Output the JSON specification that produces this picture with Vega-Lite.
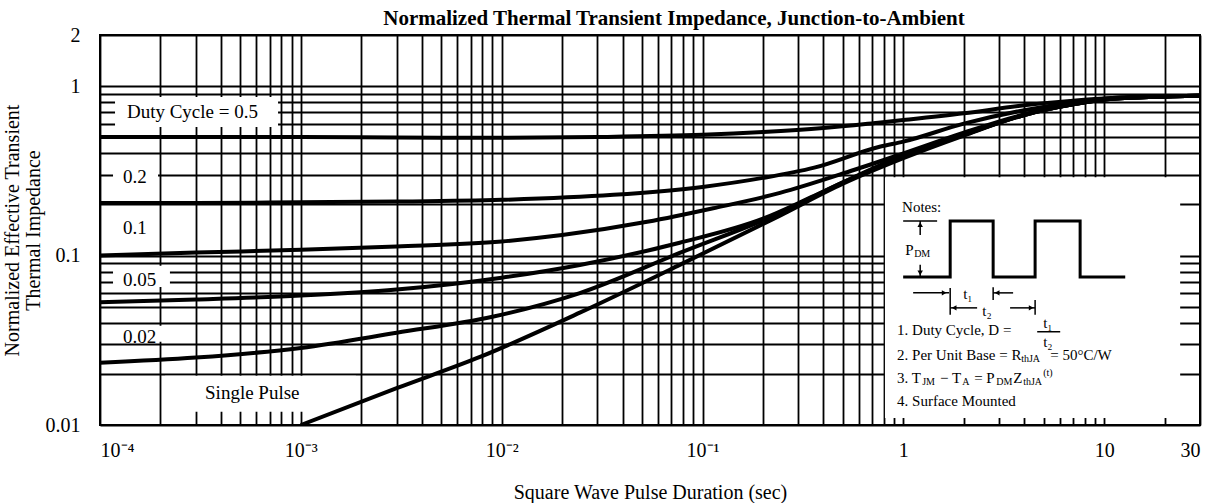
{
  "$schema": "https://vega.github.io/schema/vega-lite/v6.json",
  "width": 1100,
  "height": 390,
  "autosize": {"type": "none"},
  "padding": {"left": 100, "top": 35, "right": 15, "bottom": 78},
  "background": "white",
  "title": {
    "text": "Normalized Thermal Transient Impedance, Junction-to-Ambient",
    "font": "Liberation Serif",
    "fontSize": 21,
    "fontWeight": "bold",
    "color": "black",
    "anchor": "middle",
    "frame": "group",
    "offset": -4,
    "dx": 24
  },
  "config": {
    "view": {"stroke": "black", "strokeWidth": 2},
    "font": "Liberation Serif",
    "text": {"font": "Liberation Serif", "color": "black"},
    "axis": {
      "gridColor": "black",
      "gridWidth": 1.8,
      "gridOpacity": 1,
      "ticks": false,
      "domain": false,
      "labelFont": "Liberation Serif",
      "labelFontSize": 20,
      "labelColor": "black",
      "titleFont": "Liberation Serif",
      "titleFontSize": 20,
      "titleFontWeight": "normal",
      "titleColor": "black"
    }
  },
  "datasets": {
    "curves": [
      {"s": "0.5", "x": 0.0001, "y": 0.5}, {"s": "0.5", "x": 0.0003, "y": 0.5}, {"s": "0.5", "x": 0.001, "y": 0.5}, {"s": "0.5", "x": 0.003, "y": 0.497}, {"s": "0.5", "x": 0.01, "y": 0.495}, {"s": "0.5", "x": 0.03, "y": 0.5}, {"s": "0.5", "x": 0.1, "y": 0.515}, {"s": "0.5", "x": 0.2, "y": 0.535}, {"s": "0.5", "x": 0.4, "y": 0.565}, {"s": "0.5", "x": 0.77, "y": 0.61}, {"s": "0.5", "x": 1, "y": 0.63}, {"s": "0.5", "x": 2, "y": 0.69}, {"s": "0.5", "x": 4, "y": 0.77}, {"s": "0.5", "x": 7, "y": 0.82}, {"s": "0.5", "x": 11, "y": 0.85}, {"s": "0.5", "x": 30, "y": 0.875},
      {"s": "0.2", "x": 0.0001, "y": 0.204}, {"s": "0.2", "x": 0.0003, "y": 0.204}, {"s": "0.2", "x": 0.001, "y": 0.206}, {"s": "0.2", "x": 0.003, "y": 0.208}, {"s": "0.2", "x": 0.01, "y": 0.213}, {"s": "0.2", "x": 0.036, "y": 0.228}, {"s": "0.2", "x": 0.1, "y": 0.254}, {"s": "0.2", "x": 0.2, "y": 0.287}, {"s": "0.2", "x": 0.36, "y": 0.33}, {"s": "0.2", "x": 0.77, "y": 0.44}, {"s": "0.2", "x": 1, "y": 0.47}, {"s": "0.2", "x": 2, "y": 0.6}, {"s": "0.2", "x": 4, "y": 0.72}, {"s": "0.2", "x": 7, "y": 0.8}, {"s": "0.2", "x": 11, "y": 0.85}, {"s": "0.2", "x": 30, "y": 0.875},
      {"s": "0.1", "x": 0.0001, "y": 0.1}, {"s": "0.1", "x": 0.0003, "y": 0.104}, {"s": "0.1", "x": 0.001, "y": 0.108}, {"s": "0.1", "x": 0.003, "y": 0.113}, {"s": "0.1", "x": 0.01, "y": 0.121}, {"s": "0.1", "x": 0.02, "y": 0.132}, {"s": "0.1", "x": 0.053, "y": 0.158}, {"s": "0.1", "x": 0.113, "y": 0.19}, {"s": "0.1", "x": 0.243, "y": 0.234}, {"s": "0.1", "x": 0.525, "y": 0.31}, {"s": "0.1", "x": 1, "y": 0.4}, {"s": "0.1", "x": 2, "y": 0.53}, {"s": "0.1", "x": 4, "y": 0.68}, {"s": "0.1", "x": 7, "y": 0.78}, {"s": "0.1", "x": 11, "y": 0.84}, {"s": "0.1", "x": 30, "y": 0.875},
      {"s": "0.05", "x": 0.0001, "y": 0.053}, {"s": "0.05", "x": 0.0003, "y": 0.055}, {"s": "0.05", "x": 0.001, "y": 0.058}, {"s": "0.05", "x": 0.003, "y": 0.063}, {"s": "0.05", "x": 0.01, "y": 0.074}, {"s": "0.05", "x": 0.0245, "y": 0.088}, {"s": "0.05", "x": 0.077, "y": 0.119}, {"s": "0.05", "x": 0.2, "y": 0.165}, {"s": "0.05", "x": 0.36, "y": 0.225}, {"s": "0.05", "x": 1, "y": 0.39}, {"s": "0.05", "x": 2, "y": 0.515}, {"s": "0.05", "x": 4, "y": 0.675}, {"s": "0.05", "x": 7, "y": 0.78}, {"s": "0.05", "x": 11, "y": 0.84}, {"s": "0.05", "x": 30, "y": 0.875},
      {"s": "0.02", "x": 0.0001, "y": 0.0233}, {"s": "0.02", "x": 0.0003, "y": 0.025}, {"s": "0.02", "x": 0.001, "y": 0.0285}, {"s": "0.02", "x": 0.003, "y": 0.035}, {"s": "0.02", "x": 0.009, "y": 0.0435}, {"s": "0.02", "x": 0.0245, "y": 0.06}, {"s": "0.02", "x": 0.077, "y": 0.1035}, {"s": "0.02", "x": 0.243, "y": 0.178}, {"s": "0.02", "x": 0.5, "y": 0.27}, {"s": "0.02", "x": 1, "y": 0.38}, {"s": "0.02", "x": 2, "y": 0.515}, {"s": "0.02", "x": 4, "y": 0.675}, {"s": "0.02", "x": 7, "y": 0.78}, {"s": "0.02", "x": 11, "y": 0.84}, {"s": "0.02", "x": 30, "y": 0.875},
      {"s": "single", "x": 0.001, "y": 0.01}, {"s": "single", "x": 0.003, "y": 0.0165}, {"s": "single", "x": 0.0078, "y": 0.0252}, {"s": "single", "x": 0.0245, "y": 0.046}, {"s": "single", "x": 0.077, "y": 0.088}, {"s": "single", "x": 0.243, "y": 0.172}, {"s": "single", "x": 0.5, "y": 0.265}, {"s": "single", "x": 1, "y": 0.375}, {"s": "single", "x": 2, "y": 0.51}, {"s": "single", "x": 4, "y": 0.675}, {"s": "single", "x": 7, "y": 0.78}, {"s": "single", "x": 11, "y": 0.84}, {"s": "single", "x": 30, "y": 0.875}
    ],
    "boxes": [
      {"x": 0.0001188, "x2": 0.00077, "y": 0.573, "y2": 0.862},
      {"x": 0.0001161, "x2": 0.0001945, "y": 0.2278, "y2": 0.3664},
      {"x": 0.0001161, "x2": 0.0001945, "y": 0.1155, "y2": 0.1808},
      {"x": 0.0001161, "x2": 0.000223, "y": 0.0653, "y2": 0.0869},
      {"x": 0.0001161, "x2": 0.000223, "y": 0.03095, "y2": 0.03846},
      {"x": 0.000211, "x2": 0.00188, "y": 0.01196, "y2": 0.01951},
      {"x": 0.81, "x2": 23.9, "y": 0.011, "y2": 0.29}
    ],
    "labels": [
      {"x": 0.0001362, "y": 0.703, "t": "Duty Cycle = 0.5"},
      {"x": 0.0001301, "y": 0.2908, "t": "0.2"},
      {"x": 0.0001301, "y": 0.1455, "t": "0.1"},
      {"x": 0.0001301, "y": 0.0718, "t": "0.05"},
      {"x": 0.0001301, "y": 0.0331, "t": "0.02"},
      {"x": 0.0003334, "y": 0.01548, "t": "Single Pulse"}
    ],
    "notes": [
      {"x": 0.986, "y": 0.1936, "t": "Notes:"},
      {"x": 1.021, "y": 0.108, "t": "P"},
      {"x": 1.986, "y": 0.0594, "t": "t₁"},
      {"x": 2.47, "y": 0.0471, "t": "t₂"},
      {"x": 0.931, "y": 0.0364, "t": "1. Duty Cycle, D ="},
      {"x": 4.97, "y": 0.04005, "t": "t₁"},
      {"x": 4.97, "y": 0.03095, "t": "t₂"},
      {"x": 0.931, "y": 0.0259, "t": "2. Per Unit Base = R"},
      {"x": 5.3839, "y": 0.0259, "t": "= 50°C/W"},
      {"x": 0.931, "y": 0.01897, "t": "3. T"},
      {"x": 1.5245, "y": 0.01897, "t": "− T"},
      {"x": 2.2523, "y": 0.01897, "t": "= P"},
      {"x": 3.5221, "y": 0.01897, "t": "Z"},
      {"x": 0.931, "y": 0.01389, "t": "4. Surface Mounted"}
    ],
    "subs": [
      {"x": 1.1317, "y": 0.1022, "t": "DM"},
      {"x": 3.861, "y": 0.02457, "t": "thJA"},
      {"x": 1.2406, "y": 0.01798, "t": "JM"},
      {"x": 1.9627, "y": 0.01798, "t": "A"},
      {"x": 2.8986, "y": 0.01798, "t": "DM"},
      {"x": 3.9503, "y": 0.01798, "t": "thJA"},
      {"x": 4.9695, "y": 0.02032, "t": "(t)"}
    ],
    "wave": [
      {"i": 0, "x": 0.998, "y": 0.0748}, {"i": 1, "x": 1.711, "y": 0.0748}, {"i": 2, "x": 1.711, "y": 0.16}, {"i": 3, "x": 2.8, "y": 0.16}, {"i": 4, "x": 2.8, "y": 0.0748}, {"i": 5, "x": 4.53, "y": 0.0748}, {"i": 6, "x": 4.53, "y": 0.16}, {"i": 7, "x": 7.59, "y": 0.16}, {"i": 8, "x": 7.59, "y": 0.0748}, {"i": 9, "x": 12.73, "y": 0.0748}
    ],
    "segs": [
      {"x": 0.998, "x2": 1.473, "y": 0.16, "y2": 0.16},
      {"x": 1.213, "x2": 1.213, "y": 0.16, "y2": 0.1323},
      {"x": 1.213, "x2": 1.213, "y": 0.0881, "y2": 0.0748},
      {"x": 1.119, "x2": 1.69, "y": 0.0602, "y2": 0.0602},
      {"x": 2.8, "x2": 3.52, "y": 0.0602, "y2": 0.0602},
      {"x": 1.711, "x2": 2.33, "y": 0.0491, "y2": 0.0491},
      {"x": 3.4, "x2": 4.53, "y": 0.0491, "y2": 0.0491},
      {"x": 1.711, "x2": 1.711, "y": 0.0644, "y2": 0.0447},
      {"x": 2.8, "x2": 2.8, "y": 0.065, "y2": 0.0547},
      {"x": 4.53, "x2": 4.53, "y": 0.0547, "y2": 0.0447},
      {"x": 4.64, "x2": 6.04, "y": 0.0355, "y2": 0.0355}
    ],
    "heads": [
      {"x": 1.213, "y": 0.152, "d": "up"},
      {"x": 1.213, "y": 0.079, "d": "down"},
      {"x": 1.597, "y": 0.0602, "d": "right"},
      {"x": 2.93, "y": 0.0602, "d": "left"},
      {"x": 1.79, "y": 0.0491, "d": "left"},
      {"x": 4.33, "y": 0.0491, "d": "right"}
    ]
  },
  "layer": [
    {
      "data": {"name": "boxes"},
      "mark": {"type": "rect", "fill": "white", "stroke": null},
      "encoding": {
        "x": {
          "field": "x", "type": "quantitative",
          "scale": {"type": "log", "domain": [0.0001, 30], "nice": false},
          "axis": {
            "values": [0.0001, 0.0002, 0.0003, 0.0004, 0.0005, 0.0006, 0.0007, 0.0008, 0.0009, 0.001, 0.002, 0.003, 0.004, 0.005, 0.006, 0.007, 0.008, 0.009, 0.01, 0.02, 0.03, 0.04, 0.05, 0.06, 0.07, 0.08, 0.09, 0.1, 0.2, 0.3, 0.4, 0.5, 0.6, 0.7, 0.8, 0.9, 1, 2, 3, 4, 5, 6, 7, 8, 9, 10, 20, 30],
            "grid": true,
            "labelExpr": "datum.value === 0.0001 ? '10⁻⁴' : datum.value === 0.001 ? '10⁻³' : datum.value === 0.01 ? '10⁻²' : datum.value === 0.1 ? '10⁻¹' : datum.value === 1 ? '1' : datum.value === 10 ? '10' : datum.value === 30 ? '30' : ''",
            "labelPadding": 15,
            "title": "Square Wave Pulse Duration (sec)",
            "titlePadding": 22
          }
        },
        "x2": {"field": "x2"},
        "y": {
          "field": "y", "type": "quantitative",
          "scale": {"type": "log", "domain": [0.01, 2], "nice": false},
          "axis": {
            "values": [0.01, 0.02, 0.03, 0.04, 0.05, 0.06, 0.07, 0.08, 0.09, 0.1, 0.2, 0.3, 0.4, 0.5, 0.6, 0.7, 0.8, 0.9, 1, 2],
            "grid": true,
            "labelExpr": "datum.value === 0.01 ? '0.01' : datum.value === 0.1 ? '0.1' : datum.value === 1 ? '1' : datum.value === 2 ? '2' : ''",
            "labelPadding": 20,
            "title": ["Normalized Effective Transient", "Thermal Impedance"],
            "titleLineHeight": 21,
            "titlePadding": 2
          }
        },
        "y2": {"field": "y2"}
      }
    },
    {
      "data": {"name": "curves"},
      "mark": {"type": "line", "color": "black", "strokeWidth": 4, "interpolate": "monotone", "clip": true},
      "encoding": {
        "x": {"field": "x", "type": "quantitative"},
        "y": {"field": "y", "type": "quantitative"},
        "detail": {"field": "s"}
      }
    },
    {
      "data": {"name": "labels"},
      "mark": {"type": "text", "fontSize": 19, "align": "left", "baseline": "middle", "color": "black"},
      "encoding": {
        "x": {"field": "x", "type": "quantitative"},
        "y": {"field": "y", "type": "quantitative"},
        "text": {"field": "t"}
      }
    },
    {
      "data": {"name": "notes"},
      "mark": {"type": "text", "fontSize": 15, "align": "left", "baseline": "middle", "color": "black"},
      "encoding": {
        "x": {"field": "x", "type": "quantitative"},
        "y": {"field": "y", "type": "quantitative"},
        "text": {"field": "t"}
      }
    },
    {
      "data": {"name": "subs"},
      "mark": {"type": "text", "fontSize": 10, "align": "left", "baseline": "middle", "color": "black"},
      "encoding": {
        "x": {"field": "x", "type": "quantitative"},
        "y": {"field": "y", "type": "quantitative"},
        "text": {"field": "t"}
      }
    },
    {
      "data": {"name": "wave"},
      "mark": {"type": "line", "color": "black", "strokeWidth": 3, "strokeJoin": "miter"},
      "encoding": {
        "x": {"field": "x", "type": "quantitative"},
        "y": {"field": "y", "type": "quantitative"},
        "order": {"field": "i", "type": "quantitative"}
      }
    },
    {
      "data": {"name": "segs"},
      "mark": {"type": "rule", "color": "black", "strokeWidth": 1.5},
      "encoding": {
        "x": {"field": "x", "type": "quantitative"},
        "x2": {"field": "x2"},
        "y": {"field": "y", "type": "quantitative"},
        "y2": {"field": "y2"}
      }
    },
    {
      "data": {"name": "heads"},
      "mark": {"type": "point", "filled": true, "color": "black", "size": 30, "opacity": 1},
      "encoding": {
        "x": {"field": "x", "type": "quantitative"},
        "y": {"field": "y", "type": "quantitative"},
        "shape": {
          "field": "d", "type": "nominal",
          "scale": {"domain": ["up", "down", "left", "right"], "range": ["triangle-up", "triangle-down", "triangle-left", "triangle-right"]},
          "legend": null
        }
      }
    }
  ]
}
